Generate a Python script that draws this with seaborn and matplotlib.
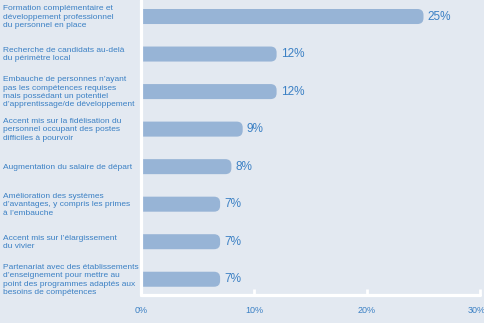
import matplotlib
matplotlib.use("Agg")
import matplotlib.pyplot as plt
import matplotlib.transforms as mtransforms
from matplotlib.patches import FancyBboxPatch
import seaborn as sns
import pandas as pd

categories = [
    "Formation complémentaire et\ndéveloppement professionnel\ndu personnel en place",
    "Recherche de candidats au-delà\ndu périmètre local",
    "Embauche de personnes n’ayant\npas les compétences requises\nmais possédant un potentiel\nd’apprentissage/de développement",
    "Accent mis sur la fidélisation du\npersonnel occupant des postes\ndifficiles à pourvoir",
    "Augmentation du salaire de départ",
    "Amélioration des systèmes\nd’avantages, y compris les primes\nà l’embauche",
    "Accent mis sur l’élargissement\ndu vivier",
    "Partenariat avec des établissements\nd’enseignement pour mettre au\npoint des programmes adaptés aux\nbesoins de compétences",
]
values = [25, 12, 12, 9, 8, 7, 7, 7]
x_ticks = [0, 10, 20, 30]
x_tick_labels = ["0%", "10%", "20%", "30%"]

BG = "#e3e9f1"
BAR = "#97b4d6"
TEXT = "#3b80c4"

sns.set_theme(style="white")
plt.rcParams["font.family"] = ["Liberation Sans", "DejaVu Sans"]

W, H = 485, 323
fig = plt.figure(figsize=(W / 100, H / 100), dpi=100, facecolor=BG)
ax = fig.add_axes([141 / W, 1 - 295 / H, (480 - 141) / W, 295 / H])
ax.set_facecolor(BG)

df = pd.DataFrame({"cat": categories, "val": values})
sns.barplot(data=df, x="val", y="cat", color=BAR, width=0.4,
            saturation=1, ax=ax, orient="h")

ax.set_xlim(0, 30)
ax.set_ylim(7.42, -0.44)

# replace the square bars with bars rounded at the right end
px_x = (480 - 141) / 30.0
px_y = 295 / (7.42 + 0.44)
r_px = 6.0
r = r_px / px_x
for p in list(ax.patches):
    x0, y0 = p.get_x(), p.get_y()
    w, h = p.get_width(), p.get_height()
    p.set_visible(False)
    rb = FancyBboxPatch((x0 - r, y0), w + r, h,
                        boxstyle=f"round,pad=0,rounding_size={r}",
                        mutation_aspect=(r_px / px_y) / r,
                        facecolor=BAR, edgecolor="none", zorder=2)
    ax.add_patch(rb)

ax.bar_label(ax.containers[0], labels=[f"{v}%" for v in values],
             padding=3, color=TEXT, fontsize=8.5, fontweight="medium")

# category labels at the left edge of the figure
trans = mtransforms.blended_transform_factory(fig.transFigure, ax.transData)
for i, c in enumerate(categories):
    ax.text(3 / W, i + 0.02, c, transform=trans, ha="left", va="center",
            fontsize=6.0, color=TEXT, linespacing=1.27, clip_on=False)

ax.set_yticks(range(len(categories)))
ax.set_yticklabels([])
ax.set_ylabel("")
ax.set_xlabel("")
ax.set_xticks(x_ticks)
ax.set_xticklabels(x_tick_labels)
ax.tick_params(axis="y", left=False)
ax.tick_params(axis="x", direction="in", length=4, width=2, color="white",
               labelsize=6.5, labelcolor=TEXT, pad=8, bottom=True)

# keep the last tick label inside the figure edge
last = ax.get_xticklabels()[-1]
last.set_transform(last.get_transform() +
                   mtransforms.ScaledTranslation(-3 / 100, 0, fig.dpi_scale_trans))

for s in ["top", "right"]:
    ax.spines[s].set_visible(False)
for s in ["left", "bottom"]:
    ax.spines[s].set_color("white")
    ax.spines[s].set_linewidth(2.3)
    ax.spines[s].set_zorder(3)
    ax.spines[s].set_capstyle("round")

fig.savefig("out.png", dpi=100, facecolor=BG)
